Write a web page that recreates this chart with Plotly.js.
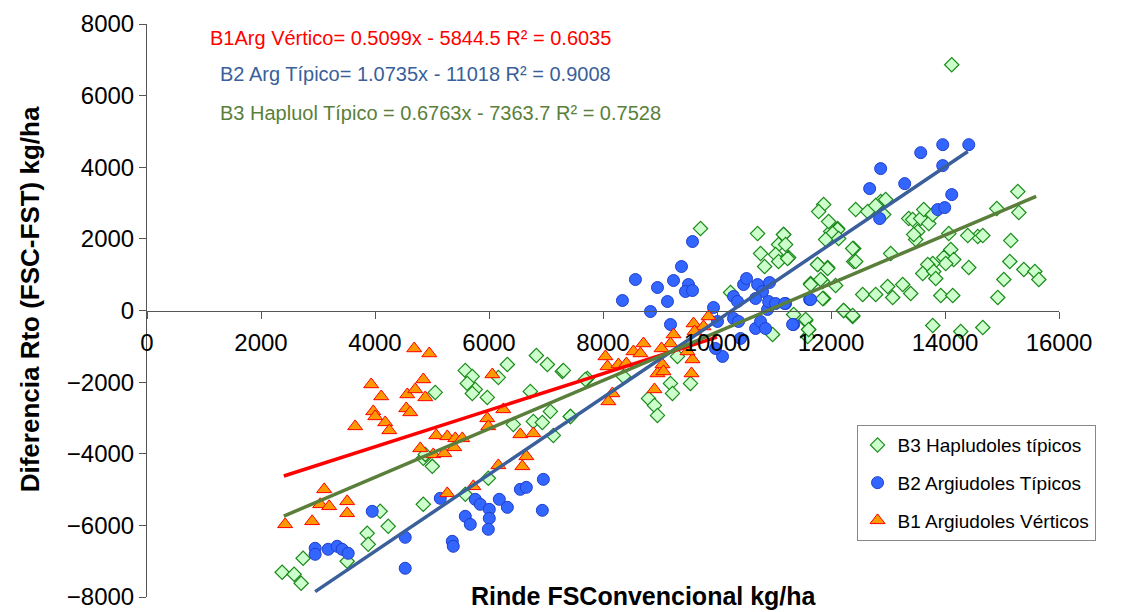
<!DOCTYPE html>
<html>
<head>
<meta charset="utf-8">
<script src="https://cdn.plot.ly/plotly-3.0.1.min.js"></script>
<style>html,body{margin:0;padding:0;background:#fff}#chart{width:1121px;height:612px}</style>
</head>
<body>
<div id="chart"></div>
<script>
// B1 Argiudoles Vérticos (triangles)
const b1X = [4688,4952,3933,4109,4847,4566,4706,4882,4548,4618,3969,4004,4179,4250,3652,6058,6251,5970,5988,5075,5268,5408,5531,5391,4794,5022,5215,6550,6778,6655,6585,6164,3108,3038,3196,3512,3512,2897,2423,5268,5725,
  9851,9588,9764,9605,9237,8710,9184,9026,8534,8042,8078,8271,8411,9570,9043,9553,8956,9061,9482,8903,8165,8095,8657];
const b1Y = [-1060,-1200,-2065,-2400,-1925,-2344,-2204,-2427,-2734,-2846,-2818,-2957,-3125,-3348,-3236,-1786,-2762,-3013,-3236,-3488,-3515,-3571,-3571,-3822,-3850,-4018,-3990,-3460,-3432,-4073,-4352,-4325,-4994,-5413,-5468,-5329,-5664,-5887,-5971,-5106,-4910,
  -167,-363,-446,-586,-670,-921,-921,-1060,-1144,-1283,-1562,-1507,-1479,-1367,-1507,-1758,-1758,-1702,-1144,-2204,-2316,-2539,-1200];

// B2 Argiudoles Típicos (circles)
const b2X = [3951,4530,4530,2950,2950,3178,3336,3424,3530,5145,5584,5672,5356,5373,5760,5847,6005,6005,5988,6181,6322,6550,6655,6954,6936,
  9570,9377,8569,8956,9237,9500,9447,9570,9131,8341,8833,9184,9939,10097,9974,10009,10290,10360,10466,10518,10712,10799,10922,10677,10887,10905,11028,11203,10290,10378,10677,10764,10852,11344,11625,10413,
  14417,13960,13574,13960,12871,12678,13293,14118,13872,13995,12854,11642,11186,11326];
const b2Y = [-5608,-6333,-7198,-6640,-6808,-6668,-6584,-6668,-6780,-5245,-5747,-5971,-6445,-6584,-5273,-5413,-5552,-5803,-6110,-5273,-5496,-4994,-4938,-4715,-5580,
  1925,1228,865,642,837,725,530,558,251,279,-28,-391,84,-1283,-1060,-307,391,251,725,893,725,530,781,335,28,251,195,195,-223,-307,-502,-307,-502,-391,307,-781,
  4631,4631,4408,4046,3962,3404,3543,3236,2818,2874,2567,307,195,-391];

// B3 Hapludoles típicos (diamonds)
const b3X = [2371,2581,2704,2739,3512,3863,3881,4091,4232,4847,5005,4847,5057,5584,5707,5619,5760,5707,5970,6164,6322,6725,6831,7024,7287,6427,6778,6936,7077,7129,7428,5988,5584,4882,7726,
  9711,10712,11168,11080,10764,11028,11256,10835,11080,11765,11941,11642,11853,11871,11344,11555,11607,11590,10975,10237,12222,12380,12398,12398,7305,7691,8359,7428,9307,9535,9184,9219,8798,8903,8956,11994,12116,
  14118,15277,15295,14909,15154,15137,15032,14926,15383,15576,15646,14417,14575,14663,14399,14066,14101,13978,14153,14013,13785,13697,13609,13803,13838,13926,14136,13521,13486,13451,13363,13433,13574,13627,13715,13785,
  12433,12643,12871,12959,12924,12784,11871,11783,11958,12116,12029,11906,12134,12380,12433,13047,11765,11941,11818,11642,12081,11853,12556,12784,12994,13082,13258,13398,12222,12380,13785,14276,14663,11168,11203,11238,11555,11607];
const b3Y = [-7310,-7366,-7617,-6919,-7003,-6222,-6529,-5608,-6026,-5413,-4352,-4129,-2288,-1674,-1841,-2037,-2204,-2316,-2427,-1869,-1507,-2260,-1256,-1507,-1702,-3181,-3097,-3125,-2818,-3488,-2957,-4687,-5134,-4018,-1897,
  2288,2148,2120,1841,1590,1562,1479,1228,1367,1283,1200,753,809,335,-112,-279,-530,-725,-670,502,0,-167,1730,1367,-1674,-1925,-1841,-2957,-1283,-2037,-2037,-2316,-2455,-2650,-2930,2204,2288,
  6863,3320,2734,2846,1953,1367,865,363,1144,1088,865,1200,2065,2092,2092,2148,1702,1479,1423,1311,1311,1283,1032,1088,893,419,419,2204,1981,2120,2567,2539,2567,2818,2427,2678,
  2818,2762,3041,3097,2678,2930,2957,2762,2483,2260,2148,1981,2009,1730,1367,1590,1283,1172,865,725,698,335,446,446,670,363,725,474,0,-140,-419,-586,-474,2120,1841,1451,-251,-530];

// trend lines: slope, intercept, x extent
const b1Fit = {a: 0.5099, b: -5844.5, x: [2400, 10000]};
const b2Fit = {a: 1.0735, b: -11018, x: [2950, 14400]};
const b3Fit = {a: 0.6763, b: -7363.7, x: [2400, 15600]};

function fitTrace(f, color) {
  return {x: f.x, y: f.x.map(v => f.a * v + f.b), type: 'scatter', mode: 'lines',
    line: {color: color, width: 3.5}, showlegend: false, hoverinfo: 'skip'};
}

const traces = [
  {x: b3X, y: b3Y, type: 'scatter', mode: 'markers', name: 'B3 Hapludoles típicos', legendgroup: 'g3',
   marker: {symbol: 'diamond', size: 11, color: '#ccffcc', line: {color: '#1a8a1a', width: 1.2}}},
  {x: b2X, y: b2Y, type: 'scatter', mode: 'markers', name: 'B2 Argiudoles Típicos', legendgroup: 'g2',
   marker: {symbol: 'circle', size: 12, color: '#3366ff', line: {color: '#1f3fcc', width: 1}}},
  {x: b1X, y: b1Y, type: 'scatter', mode: 'markers', name: 'B1 Argiudoles Vérticos', legendgroup: 'g1',
   marker: {symbol: 'triangle-up', size: 13, color: '#ff9900', line: {color: '#ff0000', width: 1}}},
  fitTrace(b1Fit, '#ff0000'),
  fitTrace(b2Fit, '#3a5f9a'),
  fitTrace(b3Fit, '#5a7f3a'),
];

const ann = (x, y, text, color, size, extra) => Object.assign({xref: 'paper', yref: 'paper', x: x, y: y,
  text: text, showarrow: false, font: {family: 'Liberation Sans, Arial', size: size, color: color}}, extra || {});

const layout = {
  width: 1121, height: 612,
  paper_bgcolor: '#fff', plot_bgcolor: '#fff',
  font: {family: 'Liberation Sans, Arial', color: '#000'},
  margin: {l: 147, r: 62, t: 24, b: 15},
  showlegend: true,
  legend: {x: 0.778, y: 0.3, xanchor: 'left', yanchor: 'top', bgcolor: '#fff', itemwidth: 30,
    bordercolor: '#888', borderwidth: 1, font: {size: 19}, tracegroupgap: 10},
  xaxis: {range: [0, 16000], dtick: 2000, tickformat: 'd', anchor: 'free', position: 0.5,
    showline: true, linecolor: '#555', linewidth: 1, showgrid: false, zeroline: false,
    ticks: 'outside', ticklen: 7, tickcolor: '#555', tickfont: {size: 24, color: '#000'}, ticklabelstandoff: 4},
  yaxis: {range: [-8000, 8000], dtick: 2000, tickformat: 'd', showline: true, linecolor: '#555', linewidth: 1,
    showgrid: false, zeroline: false, ticks: 'outside', ticklen: 7, tickcolor: '#555',
    tickfont: {size: 24, color: '#000'}},
  annotations: [
    ann(0.067, 0.976, 'B1Arg Vértico= 0.5099x - 5844.5 R² = 0.6035', '#ff0000', 20, {xanchor: 'left', yanchor: 'middle'}),
    ann(0.078, 0.913, 'B2 Arg Típico= 1.0735x - 11018 R² = 0.9008', '#3a5f9a', 20, {xanchor: 'left', yanchor: 'middle'}),
    ann(0.078, 0.845, 'B3 Hapluol Típico = 0.6763x - 7363.7 R² = 0.7528', '#5a7f3a', 20, {xanchor: 'left', yanchor: 'middle'}),
    ann(0.545, 0.002, '<b>Rinde FSConvencional kg/ha</b>', '#000', 25, {yanchor: 'middle'}),
    ann(-0.128, 0.52, '<b>Diferencia Rto (FSC-FST) kg/ha</b>', '#000', 26, {textangle: -90, xanchor: 'center', yanchor: 'middle'}),
  ],
};

Plotly.newPlot('chart', traces, layout, {displayModeBar: false, staticPlot: true});
</script>
</body>
</html>
